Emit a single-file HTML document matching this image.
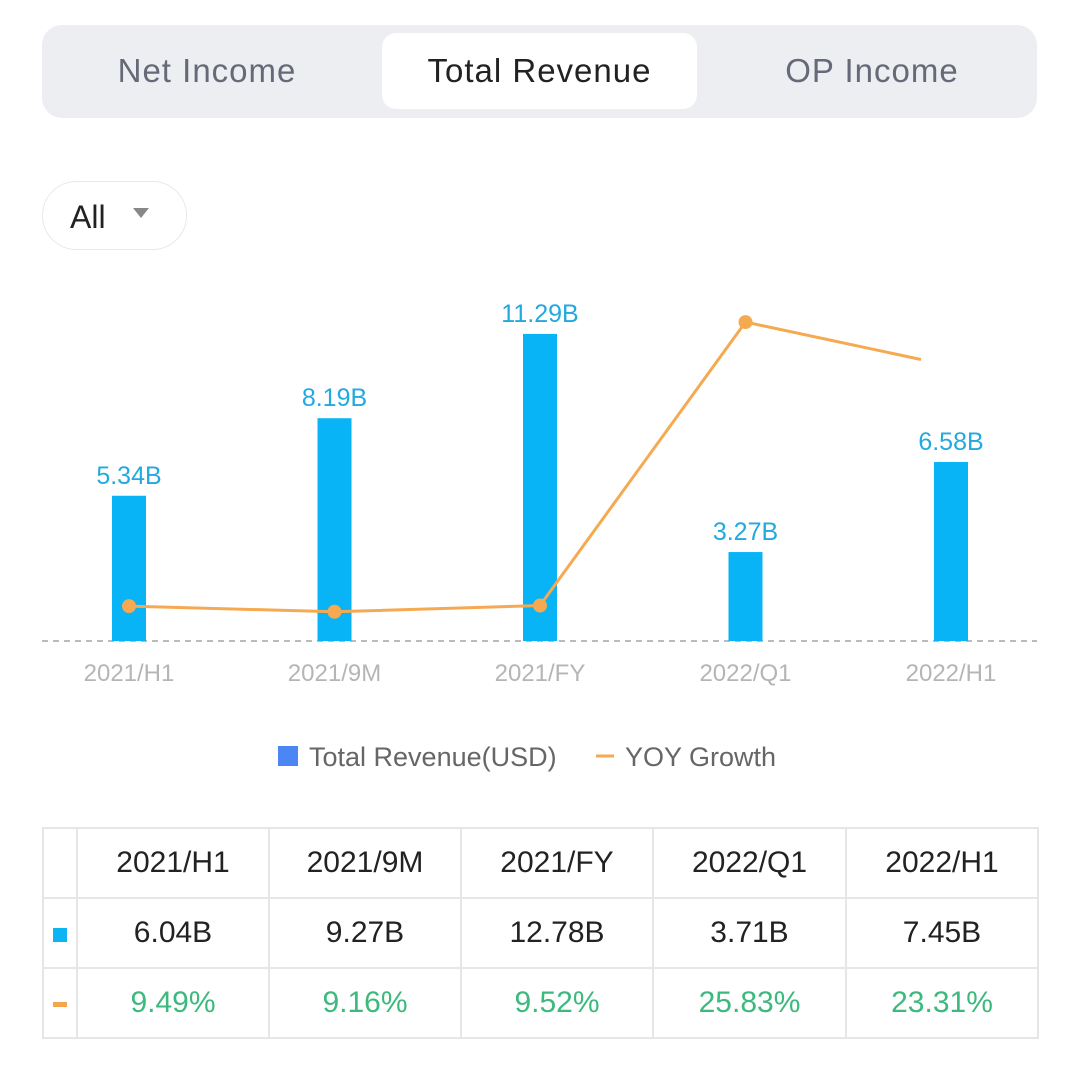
<!DOCTYPE html>
<html><head><meta charset="utf-8"><style>
body{margin:0;width:1080px;height:1075px;background:#fff;font-family:"Liberation Sans",sans-serif;position:relative;overflow:hidden}
.tabs{position:absolute;left:42px;top:25px;width:995px;height:93px;background:#eceef2;border-radius:20px}
.tab{position:absolute;top:8px;height:76px;line-height:76px;text-align:center;font-size:33px;color:#666a78;letter-spacing:1px}
.tab.active{background:#fff;border-radius:14px;color:#222}
.dd{position:absolute;left:42px;top:181px;width:145px;height:69px;border:1px solid #e8e8ec;border-radius:36px;box-sizing:border-box}
table{position:absolute;left:42px;top:827px;border-collapse:collapse}
td{border:2px solid #e6e6e6;text-align:center;font-size:30px;color:#222;height:68px;padding:0}
td.g{color:#3cb97c}
</style></head><body>
<div class="tabs">
<div class="tab" style="left:20px;width:290px">Net Income</div>
<div class="tab active" style="left:340px;width:315px">Total Revenue</div>
<div class="tab" style="left:685px;width:290px">OP Income</div>
</div>
<div class="dd"><span style="position:absolute;left:27px;top:17px;font-size:32px;color:#222">All</span><span style="position:absolute;left:90px;top:26px;width:0;height:0;border-left:8px solid transparent;border-right:8px solid transparent;border-top:10px solid #888"></span></div>
<svg id="chart" width="1080" height="800" style="position:absolute;left:0;top:0"></svg>
<table>
<tr><td style="width:32px"></td><td style="width:190px">2021/H1</td><td style="width:190px">2021/9M</td><td style="width:190px">2021/FY</td><td style="width:191px">2022/Q1</td><td style="width:190px">2022/H1</td></tr>
<tr><td><span style="display:inline-block;width:14px;height:14px;background:#0cb4f2"></span></td><td>6.04B</td><td>9.27B</td><td>12.78B</td><td>3.71B</td><td>7.45B</td></tr>
<tr><td><span style="display:inline-block;width:14px;height:5px;background:#f5a54a;vertical-align:middle"></span></td><td class="g">9.49%</td><td class="g">9.16%</td><td class="g">9.52%</td><td class="g">25.83%</td><td class="g">23.31%</td></tr>
</table>
<script>
const categories=["2021/H1","2021/9M","2021/FY","2022/Q1","2022/H1"];
const revenue=[5.34,8.19,11.29,3.27,6.58];
const revenueLabels=["5.34B","8.19B","11.29B","3.27B","6.58B"];
const growth=[9.49,9.16,9.52,25.83,23.31];
const svg=document.getElementById('chart');
const NS='http://www.w3.org/2000/svg';
const base=641;
const xPos=i=>129+i*205.5;
const yBar=v=>base-v*27.2;
const yLine=v=>771-v*17.38;
function mk(t,a,p){const e=document.createElementNS(NS,t);for(const k in a)e.setAttribute(k,a[k]);(p||svg).appendChild(e);return e;}
let ax=mk('line',{x1:42,x2:1037,y1:base,y2:base,stroke:'#bbb','stroke-width':2,'stroke-dasharray':'6,5'});


revenue.forEach((v,i)=>{
 const r=mk('rect',{x:xPos(i)-17,y:yBar(v),width:34,height:base-yBar(v),fill:'#08b3f6'});
 
 
 const t=mk('text',{x:xPos(i),y:yBar(v)-12,'text-anchor':'middle','font-size':25,fill:'#22a9df','font-family':'Liberation Sans'});
 t.textContent=revenueLabels[i];
 
 
 const c=mk('text',{x:xPos(i),y:681,'text-anchor':'middle','font-size':24,fill:'#b5b5b5','font-family':'Liberation Sans'});
 c.textContent=categories[i];
 
 
});
const pts=growth.map((v,i)=>[xPos(i),yLine(v)]);
const last=pts.length-1;
const endX=921, f=(endX-pts[last-1][0])/(pts[last][0]-pts[last-1][0]);
const dpts=pts.slice(0,last).concat([[endX,pts[last-1][1]+f*(pts[last][1]-pts[last-1][1])]]);
const pl=mk('polyline',{points:dpts.map(p=>p.join(',')).join(' '),fill:'none',stroke:'#f5aa52','stroke-width':3});


pts.slice(0,last).forEach(p=>{
 const d=mk('circle',{cx:p[0],cy:p[1],r:7,fill:'#f5aa52'});
 
 
});
const lg=mk('g',{});


mk('rect',{x:278,y:746,width:20,height:20,fill:'#4a86f5'},lg);
const l1=mk('text',{x:309,y:766,'font-size':27,fill:'#666','font-family':'Liberation Sans'},lg);l1.textContent='Total Revenue(USD)';
mk('line',{x1:596,x2:614,y1:756,y2:756,stroke:'#f5aa52','stroke-width':3},lg);
const l2=mk('text',{x:625,y:766,'font-size':27,fill:'#666','font-family':'Liberation Sans'},lg);l2.textContent='YOY Growth';
</script>
</body></html>
